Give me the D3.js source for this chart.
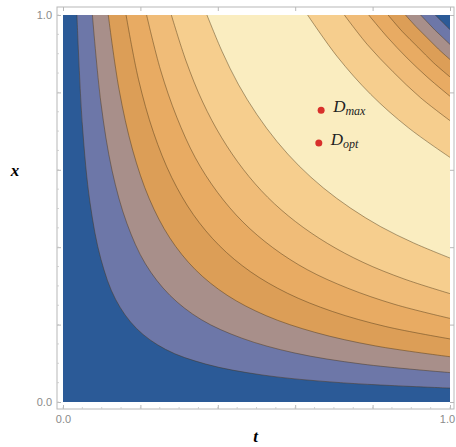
<!DOCTYPE html>
<html>
<head>
<meta charset="utf-8">
<script src="https://cdn.jsdelivr.net/npm/d3@7"></script>
<style>
  body { margin: 0; background: #fff; }
  svg { display: block; }
</style>
</head>
<body>
<script>
// contour lines as [t, x] points
// lower family (bottom-left curves), from outermost to innermost
const lowerContours = [
  [[0.036,1],[0.050,0.717],[0.070,0.514],[0.098,0.369],[0.136,0.265],[0.190,0.190],[0.265,0.136],[0.369,0.098],[0.514,0.070],[0.717,0.050],[1,0.036]],
  [[0.076,1],[0.098,0.773],[0.127,0.597],[0.165,0.462],[0.213,0.357],[0.276,0.276],[0.357,0.213],[0.462,0.165],[0.597,0.127],[0.773,0.098],[1,0.076]],
  [[0.117,1],[0.145,0.807],[0.180,0.651],[0.223,0.525],[0.276,0.424],[0.342,0.342],[0.424,0.276],[0.525,0.223],[0.651,0.180],[0.807,0.145],[1,0.117]],
  [[0.163,1],[0.195,0.834],[0.234,0.696],[0.281,0.580],[0.337,0.484],[0.404,0.404],[0.484,0.337],[0.580,0.281],[0.696,0.234],[0.834,0.195],[1,0.163]],
  [[0.216,1],[0.252,0.858],[0.294,0.736],[0.342,0.631],[0.399,0.542],[0.465,0.465],[0.542,0.399],[0.631,0.342],[0.736,0.294],[0.858,0.252],[1,0.216]],
  [[0.280,1],[0.318,0.881],[0.361,0.775],[0.410,0.683],[0.466,0.601],[0.529,0.529],[0.601,0.466],[0.683,0.410],[0.775,0.361],[0.881,0.318],[1,0.280]],
  [[0.372,1],[0.411,0.906],[0.453,0.821],[0.501,0.743],[0.553,0.673],[0.610,0.610],[0.673,0.553],[0.743,0.501],[0.821,0.453],[0.906,0.411],[1,0.372]]
];
// upper family (top-right corner curves), same order
const upperContours = [
  [[0.962,1],[0.981,0.981],[1,0.962]],
  [[0.924,1],[0.943,0.980],[0.961,0.961],[0.980,0.943],[1,0.924]],
  [[0.885,1],[0.912,0.970],[0.941,0.941],[0.970,0.912],[1,0.885]],
  [[0.840,1],[0.877,0.957],[0.917,0.917],[0.957,0.877],[1,0.840]],
  [[0.790,1],[0.838,0.943],[0.889,0.889],[0.943,0.838],[1,0.790]],
  [[0.727,1],[0.787,0.923],[0.853,0.853],[0.923,0.787],[1,0.727]],
  [[0.632,1],[0.709,0.892],[0.795,0.795],[0.892,0.709],[1,0.632]]
];

const markerNames = ["max", "opt"];
const markerT = [0.667, 0.661];
const markerX = [0.754, 0.669];

const tickValues = [0, 0.2, 0.4, 0.6, 0.8, 1];
const tickLabels = ["0.0", "", "", "", "", "1.0"];
const minorTicks = d3.range(0, 1.0001, 0.05);

// colours, lowest band first
const bandColors = ["#2b5a97", "#6d77a8", "#a88f8a", "#dc9e57", "#e8ab63", "#f0bc78", "#f6ce8e", "#faedc0"];

const width = 456, height = 447;
// plot area and the frame around it (Mathematica-like padding)
const plotLeft = 63, plotRight = 450, plotTop = 15, plotBottom = 402;
const frameLeft = 57, frameRight = 454, frameTop = 7, frameBottom = 409;

const tScale = d3.scaleLinear().domain([0, 1]).range([plotLeft, plotRight]);
const xScale = d3.scaleLinear().domain([0, 1]).range([plotBottom, plotTop]);

const svg = d3.select("body").append("svg")
  .attr("width", width)
  .attr("height", height);

svg.append("defs").append("clipPath")
  .attr("id", "plotClip")
  .append("rect")
  .attr("x", plotLeft).attr("y", plotTop)
  .attr("width", plotRight - plotLeft).attr("height", plotBottom - plotTop);

const line = d3.line()
  .x(d => tScale(d[0]))
  .y(d => xScale(d[1]))
  .curve(d3.curveCatmullRom.alpha(0.5));

const plot = svg.append("g").attr("clip-path", "url(#plotClip)");

// background = lowest band
plot.append("rect")
  .attr("x", plotLeft).attr("y", plotTop)
  .attr("width", plotRight - plotLeft).attr("height", plotBottom - plotTop)
  .attr("fill", bandColors[0]);

// each level fills the region between its lower and upper curve
lowerContours.forEach((lo, i) => {
  const up = upperContours[i].slice().reverse();
  const d = line(lo) + line(up).replace(/^M/, "L") + "Z";
  plot.append("path")
    .attr("d", d)
    .attr("fill", bandColors[i + 1]);
});

// contour strokes
plot.append("g")
  .attr("fill", "none")
  .attr("stroke", "rgba(70,50,20,0.5)")
  .attr("stroke-width", 0.9)
  .selectAll("path")
  .data(lowerContours.concat(upperContours))
  .join("path")
  .attr("d", line);

// frame
svg.append("rect")
  .attr("x", frameLeft).attr("y", frameTop)
  .attr("width", frameRight - frameLeft).attr("height", frameBottom - frameTop)
  .attr("fill", "none")
  .attr("stroke", "#b8b8b8")
  .attr("stroke-width", 1);

function styleAxis(g) {
  g.select(".domain").remove();
  g.selectAll("line").attr("stroke", "#b8b8b8");
  g.selectAll("text").attr("fill", "#8a8a8a").attr("font-family", "Liberation Sans, Arial, sans-serif").attr("font-size", 11);
}

const fmt = (d, i) => tickLabels[i];

// bottom + left with labels, ticks pointing in
const bottomAxis = svg.append("g")
  .attr("transform", `translate(0,${frameBottom})`)
  .call(d3.axisBottom(tScale).tickValues(tickValues).tickFormat(fmt).tickSizeInner(-4).tickSizeOuter(0).tickPadding(6))
  .call(styleAxis);
// last label sits at the window edge, nudge it in a little
bottomAxis.selectAll("text").filter(d => d === 1).attr("dx", "-3");

svg.append("g")
  .attr("transform", `translate(${frameLeft},0)`)
  .call(d3.axisLeft(xScale).tickValues(tickValues).tickFormat(fmt).tickSizeInner(-4).tickSizeOuter(0).tickPadding(5))
  .call(styleAxis);
// top + right, ticks only
svg.append("g")
  .attr("transform", `translate(0,${frameTop})`)
  .call(d3.axisTop(tScale).tickValues(tickValues).tickFormat("").tickSizeInner(-4).tickSizeOuter(0))
  .call(styleAxis);
svg.append("g")
  .attr("transform", `translate(${frameRight},0)`)
  .call(d3.axisRight(xScale).tickValues(tickValues).tickFormat("").tickSizeInner(-4).tickSizeOuter(0))
  .call(styleAxis);

// minor ticks
const minor = svg.append("g").attr("stroke", "#c8c8c8").attr("stroke-width", 0.8);
minor.selectAll(".mb").data(minorTicks).join("line")
  .attr("x1", d => tScale(d)).attr("x2", d => tScale(d))
  .attr("y1", frameBottom).attr("y2", frameBottom - 2);
minor.selectAll(".ml").data(minorTicks).join("line")
  .attr("y1", d => xScale(d)).attr("y2", d => xScale(d))
  .attr("x1", frameLeft).attr("x2", frameLeft + 2);

// axis titles
svg.append("text")
  .text("t")
  .attr("x", (frameLeft + frameRight) / 2)
  .attr("y", 442)
  .attr("text-anchor", "middle")
  .attr("font-family", "Liberation Serif, Times New Roman, serif")
  .attr("font-style", "italic")
  .attr("font-weight", "bold")
  .attr("font-size", 17);

svg.append("text")
  .text("x")
  .attr("x", 15)
  .attr("y", 176)
  .attr("text-anchor", "middle")
  .attr("font-family", "Liberation Serif, Times New Roman, serif")
  .attr("font-style", "italic")
  .attr("font-weight", "bold")
  .attr("font-size", 17);

// marked points
const pts = svg.append("g");
markerNames.forEach((name, i) => {
  const px = tScale(markerT[i]), py = xScale(markerX[i]);
  pts.append("circle")
    .attr("cx", px).attr("cy", py).attr("r", 3.5)
    .attr("fill", "#d8302b");
  const label = pts.append("text")
    .attr("x", px + 12)
    .attr("y", py + 2)
    .attr("font-family", "Liberation Serif, Times New Roman, serif")
    .attr("font-style", "italic")
    .attr("fill", "#222");
  label.append("tspan").text("D").attr("font-size", 17);
  label.append("tspan").text(name).attr("font-size", 12).attr("dy", 3);
});
</script>
</body>
</html>
